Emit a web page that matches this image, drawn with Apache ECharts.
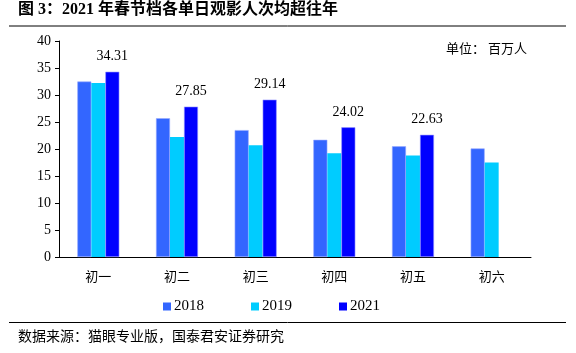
<!DOCTYPE html>
<html>
<head>
<meta charset="utf-8">
<script src="https://cdn.jsdelivr.net/npm/echarts@6/dist/echarts.min.js"></script>
<style>
html, body { margin: 0; padding: 0; background: #fff; }
#main { width: 576px; height: 353px; }
</style>
</head>
<body>
<div id="main"></div>
<script>
var days = ['初一', '初二', '初三', '初四', '初五', '初六'];	//横坐标
var v2018 = [32.5, 25.7, 23.5, 21.7, 20.5, 20.1];
var v2019 = [32.2, 22.2, 20.7, 19.2, 18.8, 17.5];
var v2021 = [34.31, 27.85, 29.14, 24.02, 22.63, null];	//初六没有数据
var serif = '"Liberation Serif", "Noto Sans CJK SC", serif';
var cjk = '"Noto Sans CJK SC", serif';

var chart = echarts.init(document.getElementById('main'));
var option = {
	animation: false,
	grid: { left: 59, top: 41, right: 45, bottom: 96 },
	legend: {
		left: 158, top: 294,
		itemWidth: 8, itemHeight: 8, itemGap: 47,
		icon: 'rect',
		itemStyle: { borderWidth: 0 },
		textStyle: { fontFamily: serif, fontSize: 15, color: '#000', padding: [0, 0, 0, -2] },
		data: ['2018', '2019', '2021']
	},
	xAxis: {
		type: 'category',
		data: days,
		axisLine: { lineStyle: { color: '#000', width: 1 } },
		axisTick: { length: 5, lineStyle: { color: '#000' } },
		axisLabel: { fontFamily: cjk, fontSize: 13, color: '#000', margin: 13 }
	},
	yAxis: {
		type: 'value',
		min: 0, max: 40, interval: 5,
		splitLine: { show: false },
		axisLine: { show: true, lineStyle: { color: '#000', width: 1 } },
		axisTick: { show: true, length: 4, lineStyle: { color: '#000' } },
		axisLabel: { fontFamily: serif, fontSize: 14, color: '#000', margin: 8 }
	},
	series: [
		{
			name: '2018', type: 'bar', data: v2018,
			barWidth: 14, barGap: '0%',
			itemStyle: { color: '#3366FF', borderColor: '#99AAFF', borderWidth: 0.6 }
		},
		{
			name: '2019', type: 'bar', data: v2019,
			barWidth: 14, barGap: '0%',
			itemStyle: { color: '#00CCFF' }
		},
		{
			name: '2021', type: 'bar', data: v2021,
			barWidth: 14, barGap: '0%',
			itemStyle: { color: '#0000FF', borderColor: '#9999FF', borderWidth: 0.6 },
			label: {
				show: true, position: 'top', distance: 8,
				fontFamily: serif, fontSize: 14, color: '#000',
				formatter: function (p) { return p.value.toFixed(2); }
			}
		}
	],
	graphic: [
		{
			type: 'text', left: 18, top: 2,
			style: { text: '图 3：2021 年春节档各单日观影人次均超往年', font: 'bold 16px "Liberation Serif", "Noto Sans CJK SC"', fill: '#000' }
		},
		{ type: 'line', shape: { x1: 9, y1: 26, x2: 566, y2: 26 }, style: { stroke: '#000', lineWidth: 1 } },
		{
			type: 'text', left: 446, top: 42,
			style: { text: '单位： 百万人', font: '13px "Noto Sans CJK SC"', fill: '#000' }
		},
		{ type: 'line', shape: { x1: 9, y1: 322.5, x2: 566, y2: 322.5 }, style: { stroke: '#000', lineWidth: 1 } },
		{
			type: 'text', left: 18, top: 329,
			style: { text: '数据来源：猫眼专业版，国泰君安证券研究', font: '14px "Noto Sans CJK SC"', fill: '#000' }
		}
	]
};
chart.setOption(option);
</script>
</body>
</html>
